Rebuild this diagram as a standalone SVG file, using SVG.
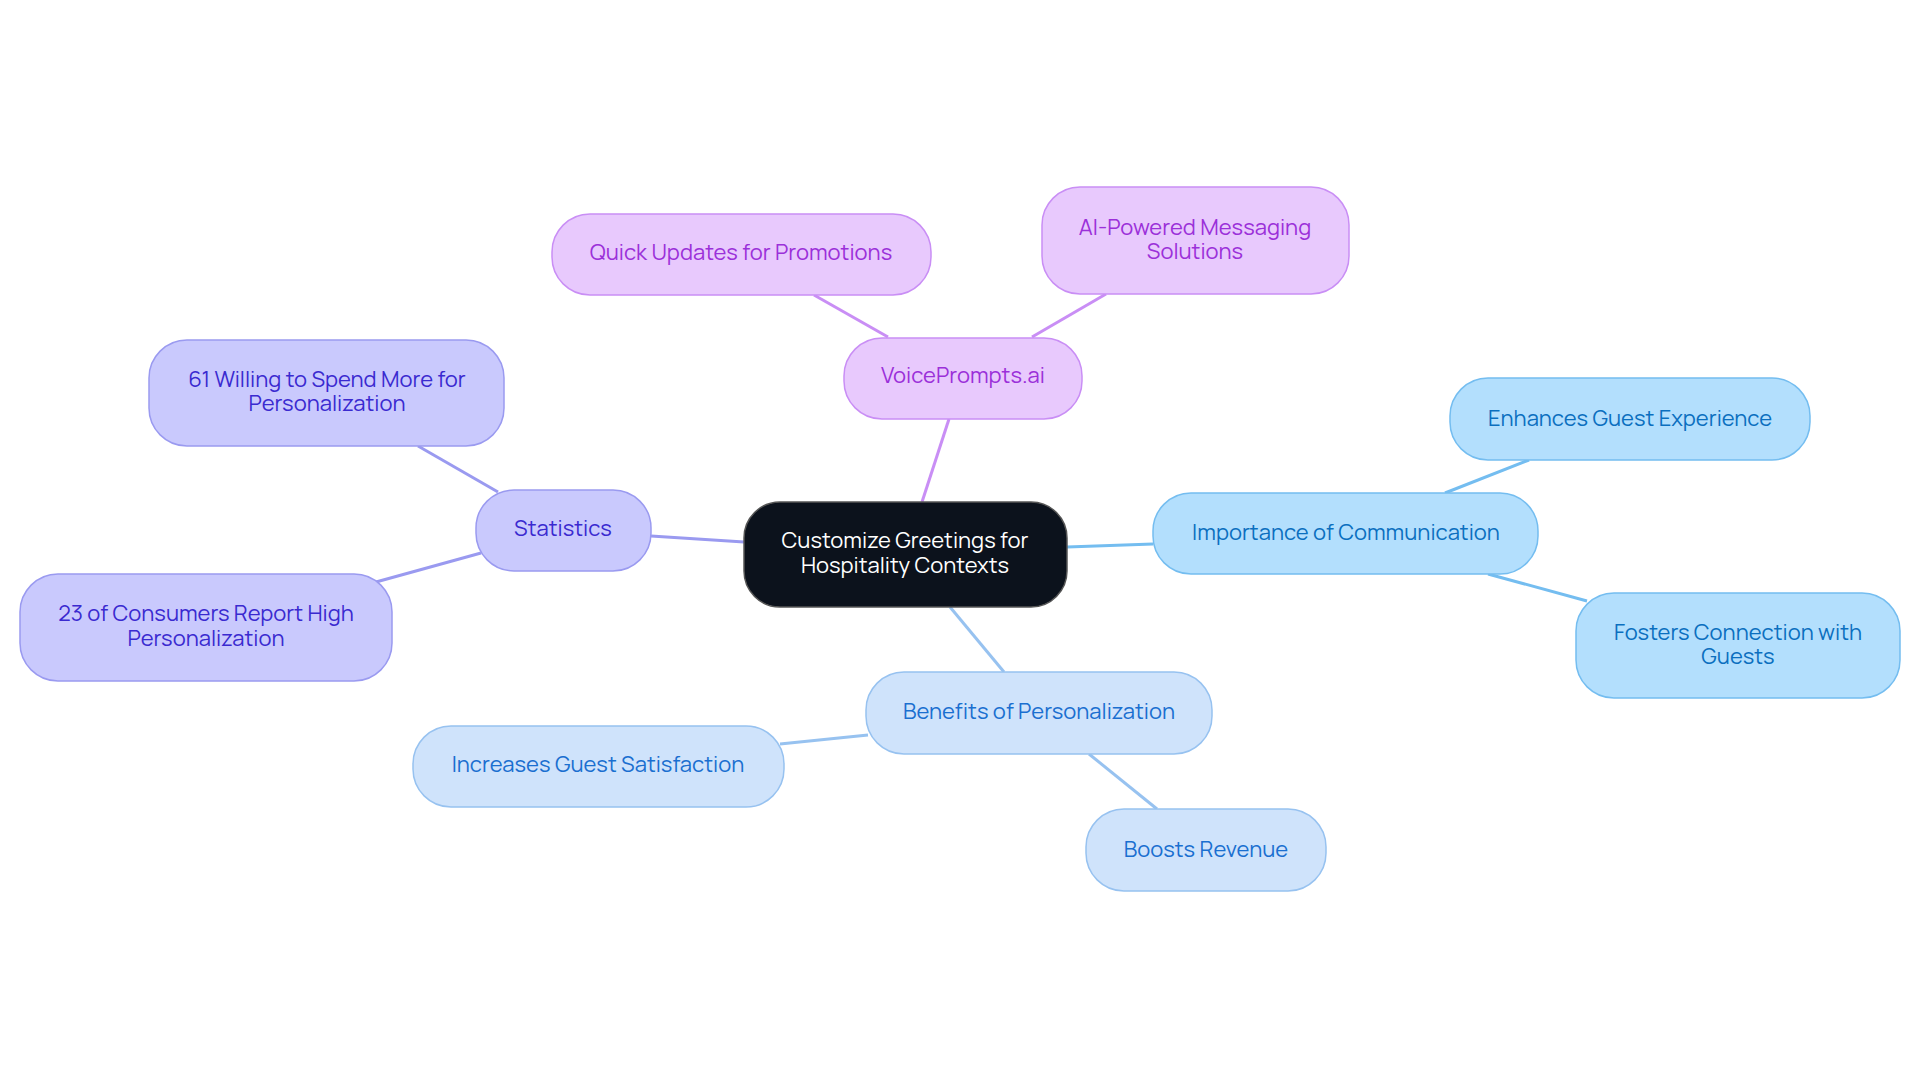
<svg xmlns="http://www.w3.org/2000/svg" width="1920" height="1083" viewBox="0 0 1920 1083">
<style>
text{font-family:Manrope,Inter,"Liberation Sans",sans-serif;font-size:22px;text-anchor:middle}
.e{stroke-width:3;fill:none}
.p rect{fill:#e8c9fd;stroke:#c98ef5;stroke-width:1.5}.p text{fill:#9b30d9}
.s rect{fill:#c9c9fd;stroke:#9a9af0;stroke-width:1.5}.s text{fill:#3a2ad0}
.i rect{fill:#b3dffd;stroke:#74bdf0;stroke-width:1.5}.i text{fill:#0b6fbf}
.b rect{fill:#cfe3fb;stroke:#97c2f0;stroke-width:1.5}.b text{fill:#1a6fd0}
</style>
<rect width="1920" height="1083" fill="#fff"/>
<g id="connectors">
<line class="e" stroke="#c98ef5" x1="922" y1="502" x2="949" y2="419"/>
<line class="e" stroke="#c98ef5" x1="888" y1="337" x2="814" y2="295"/>
<line class="e" stroke="#c98ef5" x1="1032" y1="337" x2="1106" y2="294"/>
<line class="e" stroke="#9a9af0" x1="744" y1="542" x2="651" y2="536"/>
<line class="e" stroke="#9a9af0" x1="498" y1="492" x2="418" y2="446"/>
<line class="e" stroke="#9a9af0" x1="481" y1="553" x2="376" y2="582"/>
<line class="e" stroke="#74bdf0" x1="1067" y1="547" x2="1153" y2="544"/>
<line class="e" stroke="#74bdf0" x1="1445" y1="493" x2="1529" y2="460"/>
<line class="e" stroke="#74bdf0" x1="1488" y1="574" x2="1587" y2="601"/>
<line class="e" stroke="#97c2f0" x1="950" y1="607" x2="1004" y2="672"/>
<line class="e" stroke="#97c2f0" x1="868" y1="735" x2="780" y2="744"/>
<line class="e" stroke="#97c2f0" x1="1089" y1="754" x2="1157" y2="809"/>
</g>
<g id="center"><rect x="744" y="502" width="323" height="105" rx="36" fill="#0c121c" stroke="#555" stroke-width="1.5"/><text fill="#fff" x="905" y="548">Customize Greetings for</text><text fill="#fff" x="905" y="573">Hospitality Contexts</text></g>
<g id="voiceprompts" class="p"><rect x="844" y="338" width="238" height="81" rx="38"/><text x="963" y="383">VoicePrompts.ai</text></g>
<g id="quick" class="p"><rect x="552" y="214" width="379" height="81" rx="38"/><text x="741" y="260">Quick Updates for Promotions</text></g>
<g id="ai" class="p"><rect x="1042" y="187" width="307" height="107" rx="38"/><text x="1195" y="235">AI-Powered Messaging</text><text x="1195" y="259">Solutions</text></g>
<g id="statistics" class="s"><rect x="476" y="490" width="175" height="81" rx="38"/><text x="563" y="536">Statistics</text></g>
<g id="willing" class="s"><rect x="149" y="340" width="355" height="106" rx="38"/><text x="327" y="387">61 Willing to Spend More for</text><text x="327" y="411">Personalization</text></g>
<g id="consumers" class="s"><rect x="20" y="574" width="372" height="107" rx="38"/><text x="206" y="621">23 of Consumers Report High</text><text x="206" y="646">Personalization</text></g>
<g id="importance" class="i"><rect x="1153" y="493" width="385" height="81" rx="38"/><text x="1346" y="540">Importance of Communication</text></g>
<g id="enhances" class="i"><rect x="1450" y="378" width="360" height="82" rx="38"/><text x="1630" y="426">Enhances Guest Experience</text></g>
<g id="fosters" class="i"><rect x="1576" y="593" width="324" height="105" rx="38"/><text x="1738" y="640">Fosters Connection with</text><text x="1738" y="664">Guests</text></g>
<g id="benefits" class="b"><rect x="866" y="672" width="346" height="82" rx="38"/><text x="1039" y="719">Benefits of Personalization</text></g>
<g id="increases" class="b"><rect x="413" y="726" width="371" height="81" rx="38"/><text x="598" y="772">Increases Guest Satisfaction</text></g>
<g id="boosts" class="b"><rect x="1086" y="809" width="240" height="82" rx="38"/><text x="1206" y="857">Boosts Revenue</text></g>
</svg>
